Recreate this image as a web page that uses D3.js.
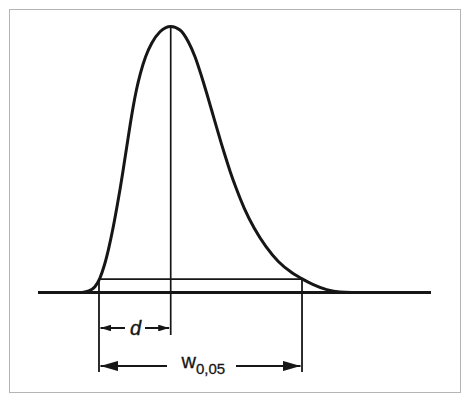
<!DOCTYPE html>
<html>
<head>
<meta charset="utf-8">
<script src="https://cdn.jsdelivr.net/npm/d3@7"></script>
<style>
  html, body { margin: 0; padding: 0; background: #fff; }
  svg { display: block; }
</style>
</head>
<body>
<svg id="chart" width="465" height="398"></svg>
<script>
// Peak profile (time in arbitrary units, signal in % of peak height)
const peakTime = [1.120, 1.293, 1.448, 1.573, 1.690, 1.799, 1.908, 2.003, 2.092, 2.160, 2.206, 2.285,
                  2.351, 2.422, 2.504, 2.606, 2.738, 2.893, 3.104, 3.377,
                  3.613, 3.824, 3.995, 4.165, 4.293, 4.417, 4.539, 4.664, 4.763, 4.891, 5.043,
                  5.249, 5.504, 5.802, 6.115, 6.455, 6.710, 7.005, 7.346, 7.684, 7.990];
const peakSignal = [0, 0.53, 2.14, 5.30, 10.30, 16.58, 24.11, 31.63, 39.15, 45.39, 49.79, 57.31,
                    63.60, 69.84, 76.12, 82.40, 88.64, 93.68, 98.04, 100,
                    98.68, 94.28, 88.64, 81.12, 74.88, 68.60, 62.32, 56.07, 51.30, 45.39, 39.15,
                    31.63, 24.11, 17.19, 11.62, 7.48, 5.19, 2.93, 1.05, 0.15, 0];
const baselineTime = [0, 10];
const apexTime = 3.377;          // retention time (peak maximum)
const frontTime5 = 1.552;        // leading edge at 5 % height
const tailTime5 = 6.718;         // trailing edge at 5 % height
const levelFraction = [0.05];    // 5 % of peak height
const labels = ["d", "w", "0,05"];

const svg = d3.select("#chart");
const x = d3.scaleLinear().domain([0, 10]).range([38, 431]);
const y = d3.scaleLinear().domain([0, 100]).range([292.4, 26.5]);

const ink = "#161616";
const font = "Liberation Sans, Arial, Helvetica, sans-serif";

// frame
svg.append("rect").attr("x", 9.5).attr("y", 9.5).attr("width", 451).attr("height", 383)
  .attr("fill", "none").attr("stroke", "#b4b4b4").attr("stroke-width", 1);

// arrow markers
const defs = svg.append("defs");
function marker(id, len, half) {
  defs.append("marker").attr("id", id).attr("viewBox", `0 ${-half} ${len} ${2*half}`)
    .attr("refX", len).attr("refY", 0).attr("markerUnits", "userSpaceOnUse")
    .attr("markerWidth", len).attr("markerHeight", 2*half).attr("orient", "auto-start-reverse")
    .append("path").attr("d", `M0,${-half}L${len},0L0,${half}Z`).attr("fill", ink);
}
marker("arrS", 11, 3.4);
marker("arrL", 18, 5.2);

const lvl = y(levelFraction[0] * 100);

// 5% horizontal line
svg.append("line").attr("x1", x(frontTime5)).attr("x2", x(tailTime5))
  .attr("y1", lvl).attr("y2", lvl).attr("stroke", ink).attr("stroke-width", 1.6);

// baseline
svg.append("line").attr("x1", x(baselineTime[0])).attr("x2", x(baselineTime[1]))
  .attr("y1", y(0)).attr("y2", y(0)).attr("stroke", ink).attr("stroke-width", 3);

// verticals
svg.append("line").attr("x1", x(apexTime)).attr("x2", x(apexTime))
  .attr("y1", y(100)).attr("y2", 335).attr("stroke", ink).attr("stroke-width", 1.7);
svg.append("line").attr("x1", x(frontTime5)).attr("x2", x(frontTime5))
  .attr("y1", lvl).attr("y2", 372).attr("stroke", ink).attr("stroke-width", 1.8);
svg.append("line").attr("x1", x(tailTime5)).attr("x2", x(tailTime5))
  .attr("y1", lvl).attr("y2", 372).attr("stroke", ink).attr("stroke-width", 1.8);

// peak curve
const pts = peakTime.map((t, i) => [t, peakSignal[i]]);
svg.append("path").datum(pts)
  .attr("d", d3.line().x(d => x(d[0])).y(d => y(d[1])).curve(d3.curveMonotoneX))
  .attr("fill", "none").attr("stroke", ink).attr("stroke-width", 3).attr("stroke-linejoin", "round");

// d dimension
const dY = 328;
const xa = x(frontTime5), xb = x(apexTime), xc = x(tailTime5);
svg.append("line").attr("x1", xa + 1.5).attr("x2", 125).attr("y1", dY).attr("y2", dY)
  .attr("stroke", ink).attr("stroke-width", 2).attr("marker-start", "url(#arrS)");
svg.append("line").attr("x1", 145).attr("x2", xb - 1.5).attr("y1", dY).attr("y2", dY)
  .attr("stroke", ink).attr("stroke-width", 2).attr("marker-end", "url(#arrS)");
svg.append("text").attr("x", 135.5).attr("y", dY + 6.5).attr("text-anchor", "middle")
  .attr("font-family", font).attr("font-style", "italic")
  .attr("font-size", 20).attr("fill", ink).attr("stroke", ink).attr("stroke-width", 0.4)
  .text(labels[0]);

// w dimension
const wY = 366;
svg.append("line").attr("x1", xa + 1.5).attr("x2", 167).attr("y1", wY).attr("y2", wY)
  .attr("stroke", ink).attr("stroke-width", 2.2).attr("marker-start", "url(#arrL)");
svg.append("line").attr("x1", 236).attr("x2", xc - 1.5).attr("y1", wY).attr("y2", wY)
  .attr("stroke", ink).attr("stroke-width", 2.2).attr("marker-end", "url(#arrL)");
const wt = svg.append("text").attr("x", 181.5).attr("y", 368)
  .attr("font-family", font).attr("fill", ink).attr("stroke", ink).attr("stroke-width", 0.3);
wt.append("tspan").attr("font-size", 20).text(labels[1]);
wt.append("tspan").attr("font-size", 15).attr("dy", 6).text(labels[2]);
</script>
</body>
</html>
